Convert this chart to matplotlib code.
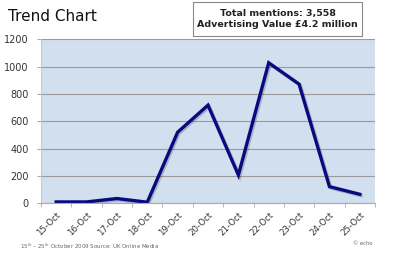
import matplotlib
matplotlib.use("Agg")
import matplotlib.pyplot as plt
import matplotlib.patheffects as pe
from matplotlib.patches import Rectangle
import numpy as np

categories = ["15-Oct", "16-Oct", "17-Oct", "18-Oct", "19-Oct", "20-Oct",
              "21-Oct", "22-Oct", "23-Oct", "24-Oct", "25-Oct"]
mentions = [10, 10, 35, 8, 520, 718, 207, 1028, 872, 122, 66]
y_ticks = [0, 200, 400, 600, 800, 1000, 1200]

plt.rcParams['font.family'] = ['DejaVu Sans']
fig = plt.figure(figsize=(4.0, 2.68), dpi=100)
ax = fig.add_axes([0.1025, 0.2414, 0.835, 0.612])
ax.set_facecolor("#d2dfee")

x = np.arange(len(categories))
ax.plot(x, mentions, color="#0a0a80", lw=2.4, solid_joinstyle="miter",
        path_effects=[pe.SimpleLineShadow(offset=(1.0, -1.0), alpha=0.2), pe.Normal()])

ax.set_xlim(-0.5, len(categories) - 0.5)
ax.set_ylim(0, 1200)
ax.set_yticks(y_ticks)
ax.set_yticklabels([str(v) for v in y_ticks], fontsize=7, color="#333333")
ax.yaxis.grid(True, color="#9a9a9a", lw=0.8)
ax.set_axisbelow(True)
ax.tick_params(axis="y", length=3, color="#aaaaaa", pad=6)

ax.set_xticks(x)
ax.set_xticklabels(categories, rotation=45, ha="right", rotation_mode="anchor",
                   fontsize=6.2, color="#333333")
ax.tick_params(axis="x", length=0, pad=5)
ax.set_xticks(np.arange(-0.5, len(categories)), minor=True)
ax.tick_params(axis="x", which="minor", length=3, color="#aaaaaa")

for s in ["top", "right"]:
    ax.spines[s].set_visible(False)
ax.spines["left"].set_color("#c8c8c8")
ax.spines["bottom"].set_color("#aaaaaa")

fig.text(0.02, 0.94, "Trend Chart", fontsize=11, color="#111111", ha="left", va="center")
fig.patches.append(Rectangle((0.4825, 0.866), 0.4225, 0.127, transform=fig.transFigure,
                             fc="white", ec="#888888", lw=0.8))
fig.text(0.694, 0.929, "Total mentions: 3,558\nAdvertising Value £4.2 million",
         fontsize=6.8, fontweight="bold", color="#222222", ha="center", va="center",
         linespacing=1.25)
fig.text(0.05, 0.082, "15$^{th}$ – 25$^{th}$ October 2009 Source: UK Online Media",
         fontsize=4.0, color="#666666", ha="left", va="center")
fig.text(0.907, 0.09, "© echo", fontsize=3.8, color="#666666", ha="center", va="center")

fig.savefig("out.png", dpi=100, facecolor="white")
